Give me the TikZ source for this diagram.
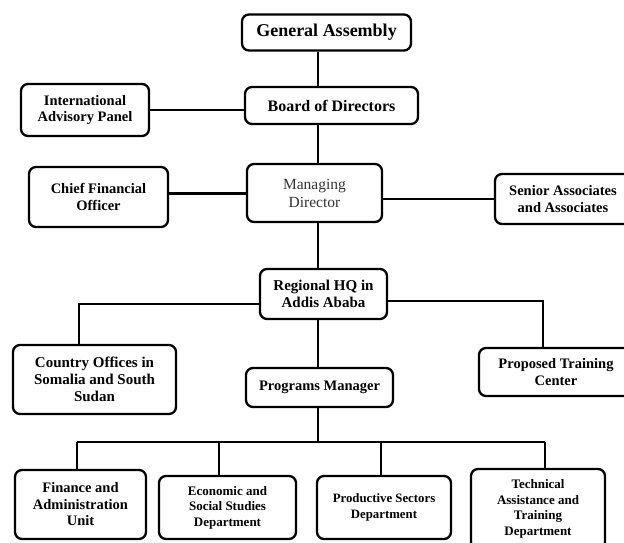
\documentclass[tikz,border=0pt]{standalone}
\usepackage{fontspec}
\setmainfont{Liberation Serif}
\begin{document}
\begin{tikzpicture}[x=1pt,y=-1pt,
  box/.style={draw=black, line width=2.3pt, rounded corners=7pt, fill=white,
    align=center, inner sep=0pt, font=\bfseries\fontsize{14.5}{16.5}\selectfont},
  conn/.style={draw=black, line width=2pt},
  thick conn/.style={draw=black, line width=3pt}]
\useasboundingbox (0,0) rectangle (624,542);
\clip (0,0) rectangle (624,542);
% coordinates for connector routing
\coordinate (sp) at (318,0);
\coordinate (cl) at (79,304);
\coordinate (cr) at (543,301);
\coordinate (bus) at (318,442);
\coordinate (d1) at (77,442);
\coordinate (d2) at (219,442);
\coordinate (d3) at (381,442);
\coordinate (d4) at (545,442);
% nodes
\node[box, minimum width=169pt, minimum height=36pt, font=\bfseries\fontsize{18}{20}\selectfont] (GA) at (326.5,32.5) {General Assembly};
\node[box, minimum width=173pt, minimum height=37pt, font=\bfseries\fontsize{16}{18}\selectfont] (BoD) at (331.5,105.5) {Board of Directors};
\node[box, minimum width=128pt, minimum height=52pt] (IAP) at (85,110) {International\\Advisory Panel};
\node[box, minimum width=139pt, minimum height=60pt] (CFO) at (98.5,197) {Chief Financial\\Officer};
\node[box, minimum width=135pt, minimum height=58pt, text=black!80, font=\fontsize{15.5}{18}\selectfont] (MD) at (314.5,193) {Managing\\Director};
\node[box, minimum width=136pt, minimum height=50pt] (SA) at (563,199) {Senior Associates\\and Associates};
\node[box, minimum width=127pt, minimum height=50pt, font=\bfseries\fontsize{15}{17}\selectfont] (HQ) at (323.5,294) {Regional HQ in\\Addis Ababa};
\node[box, minimum width=163pt, minimum height=69pt, font=\bfseries\fontsize{15}{17}\selectfont] (CO) at (94.5,379.5) {Country Offices in\\Somalia and South\\Sudan};
\node[box, minimum width=154pt, minimum height=48pt] (PTC) at (556,372) {Proposed Training\\Center};
\node[box, minimum width=147pt, minimum height=39pt] (PM) at (319.5,387.5) {Programs Manager};
\node[box, minimum width=131pt, minimum height=69pt] (FA) at (80.5,504.5) {Finance and\\Administration\\Unit};
\node[box, minimum width=137pt, minimum height=63pt, font=\bfseries\fontsize{13}{15.5}\selectfont] (ES) at (227.5,507.5) {Economic and\\Social Studies\\Department};
\node[box, minimum width=134pt, minimum height=63pt, font=\bfseries\fontsize{12.8}{15.5}\selectfont] (PS) at (384,507.5) {Productive Sectors\\Department};
\node[box, minimum width=134pt, minimum height=80pt, font=\bfseries\fontsize{13}{15.5}\selectfont] (TA) at (538,509) {Technical\\Assistance and\\Training\\Department};
% connectors
\draw[conn] (GA.south -| sp) -- (BoD.north -| sp);
\draw[conn] (BoD.south -| sp) -- (MD.north -| sp);
\draw[conn] (IAP.east) -- (IAP.east -| BoD.west);
\draw[thick conn] (MD.west) -- (MD.west -| CFO.east);
\draw[conn] (SA.west) -- (SA.west -| MD.east);
\draw[conn] (MD.south -| sp) -- (HQ.north -| sp);
\draw[conn] (HQ.west |- cl) -| (CO.north -| cl);
\draw[conn] (HQ.east |- cr) -| (PTC.north -| cr);
\draw[conn] (HQ.south -| sp) -- (PM.north -| sp);
\draw[conn] (PM.south -| sp) -- (bus);
\draw[conn] (d1) -- (d4);
\draw[conn] (d1) -- (FA.north -| d1);
\draw[conn] (d2) -- (ES.north -| d2);
\draw[conn] (d3) -- (PS.north -| d3);
\draw[conn] (d4) -- (TA.north -| d4);
\end{tikzpicture}
\end{document}
